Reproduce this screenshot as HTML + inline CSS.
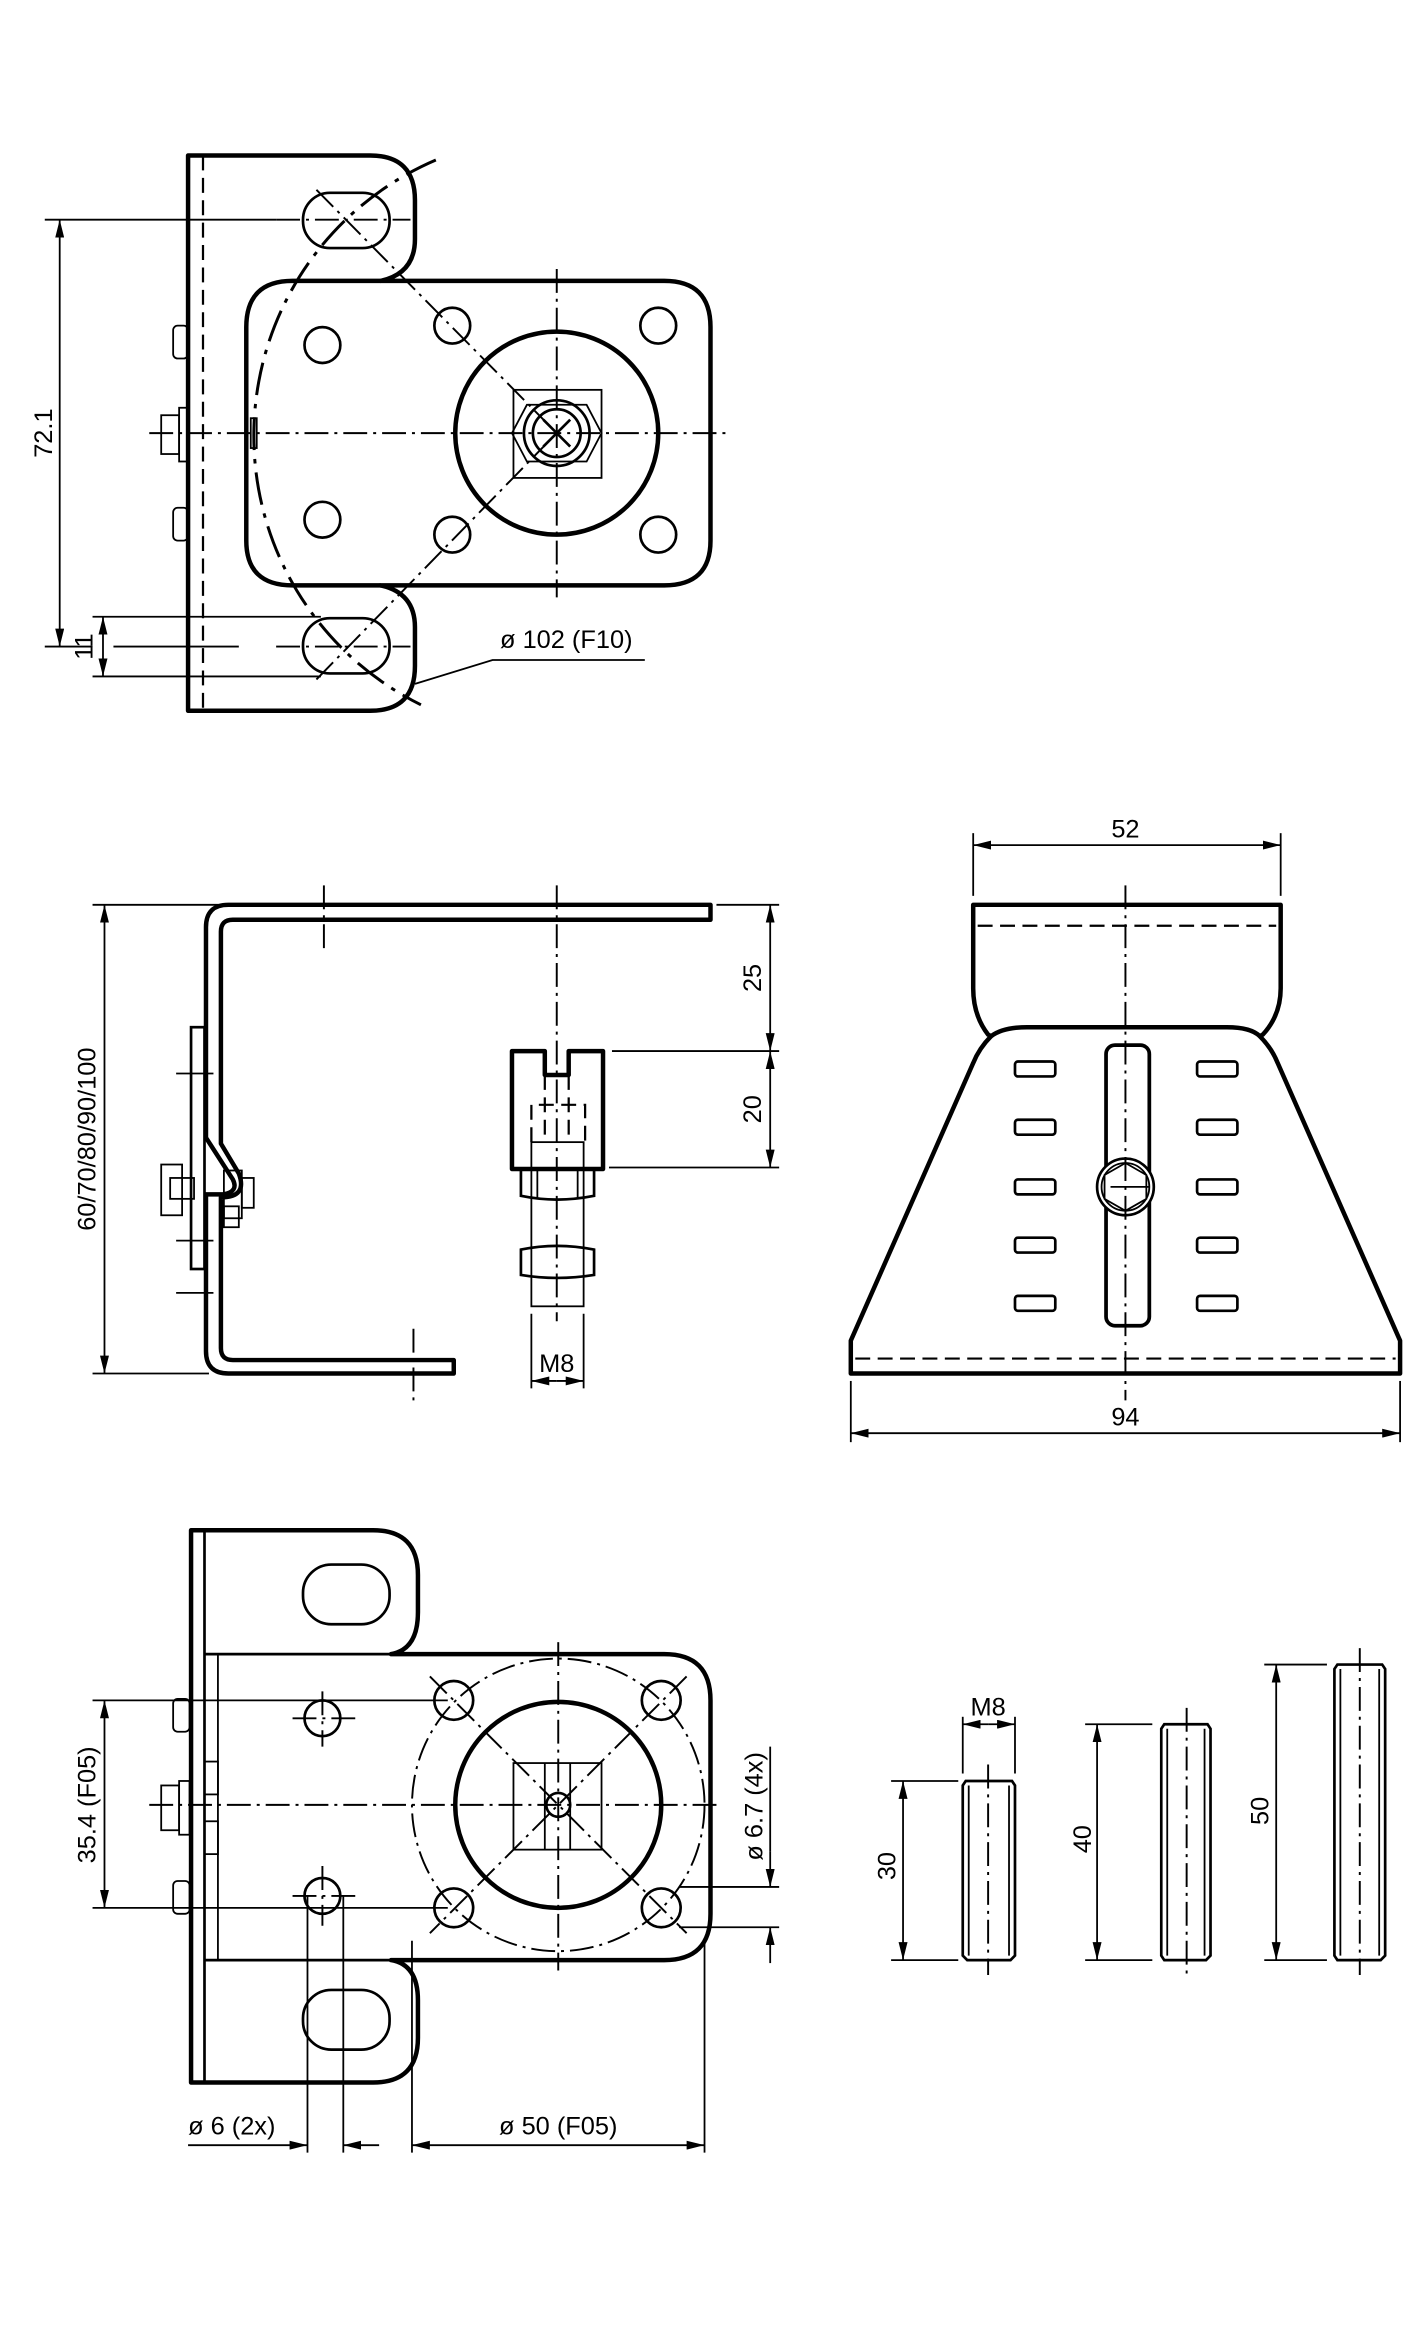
<!DOCTYPE html>
<html><head><meta charset="utf-8"><style>
html,body{margin:0;padding:0;background:#fff;}
svg{display:block;}
text{font-family:"Liberation Sans",sans-serif;font-size:17px;fill:#000;}
.t{fill:none;stroke:#000;stroke-width:3;stroke-linejoin:round;}
.m{fill:none;stroke:#000;stroke-width:1.8;}
.n{fill:none;stroke:#000;stroke-width:1.2;}
.c{fill:none;stroke:#000;stroke-width:1.3;stroke-dasharray:16 4 2 4;}
.d{fill:none;stroke:#000;stroke-width:1.5;stroke-dasharray:10 5;}
.ca{fill:none;stroke:#000;stroke-width:2;stroke-dasharray:22 6 3 6;}
</style></head><body>
<svg width="1418" height="2338" viewBox="0 0 950 1566" xmlns="http://www.w3.org/2000/svg">
<defs>
<marker id="a" viewBox="0 0 12 6" refX="12" refY="3" markerWidth="12" markerHeight="6" orient="auto-start-reverse" markerUnits="userSpaceOnUse"><path d="M0,0 L12,3 L0,6 Z" fill="#000"/></marker>
</defs>

<!-- ============ VIEW 1 (top) ============ -->
<path class="t" d="M126,104 H248 Q278,104 278,134 V160 Q278,183 255,188 H445 Q476,188 476,219 V362 Q476,392 445,392 H255 Q278,397 278,420 V446 Q278,476 248,476 H126 Z"/>
<path class="t" d="M255,188 H196 Q165,188 165,219 V362 Q165,392 196,392 H255"/>
<line class="d" x1="136" y1="104" x2="136" y2="476"/>
<!-- slots -->
<rect class="m" x="203" y="129" width="58" height="37" rx="18"/>
<rect class="m" x="203" y="414" width="58" height="37" rx="18"/>
<!-- holes -->
<circle class="m" cx="216" cy="231" r="12"/><circle class="m" cx="216" cy="348" r="12"/>
<circle class="m" cx="303" cy="218" r="12"/><circle class="m" cx="303" cy="358" r="12"/>
<circle class="m" cx="441" cy="218" r="12"/><circle class="m" cx="441" cy="358" r="12"/>
<circle class="t" cx="373" cy="290" r="68"/>
<rect class="n" x="344" y="261" width="59" height="59"/>
<polygon class="n" points="353,271 393,271 403,290 393,309 353,309 343,290"/>
<circle class="m" cx="373" cy="290" r="22"/><circle class="m" cx="373" cy="290" r="16"/>
<line class="m" x1="364" y1="281" x2="382" y2="299"/><line class="m" x1="364" y1="299" x2="382" y2="281"/>
<line class="c" x1="100" y1="290" x2="490" y2="290"/>
<line class="c" x1="373" y1="180" x2="373" y2="400"/>
<line class="c" x1="212" y1="127" x2="373" y2="290"/>
<line class="c" x1="212" y1="455" x2="373" y2="290"/>
<line class="c" x1="185" y1="147" x2="275" y2="147"/>
<line class="c" x1="185" y1="433" x2="275" y2="433"/>
<!-- ø102 arc -->
<path class="ca" d="M292,107 A201,201 0 0 0 282,472"/>
<!-- left parts -->
<rect class="n" x="116" y="218" width="10" height="22" rx="3"/>
<rect class="n" x="116" y="340" width="10" height="22" rx="3"/>
<rect class="n" x="108" y="278" width="12" height="26"/><rect class="n" x="120" y="273" width="6" height="36"/>
<rect class="n" x="168" y="280" width="4" height="20"/>
<!-- 72.1 dims -->
<line class="n" x1="30" y1="147" x2="185" y2="147"/>
<line class="n" x1="30" y1="433" x2="62" y2="433"/>
<line class="n" x1="40" y1="147" x2="40" y2="433" marker-start="url(#a)" marker-end="url(#a)"/>
<text transform="translate(35,290) rotate(-90)" text-anchor="middle">72.1</text>
<line class="n" x1="62" y1="413" x2="215" y2="413"/>
<line class="n" x1="62" y1="453" x2="215" y2="453"/>
<line class="n" x1="76" y1="433" x2="160" y2="433"/>
<line class="n" x1="69" y1="413" x2="69" y2="453" marker-start="url(#a)" marker-end="url(#a)"/>
<text transform="translate(62,433) rotate(-90)" text-anchor="middle">11</text>
<polyline class="n" points="278,458 330,442 432,442"/>
<text x="335" y="434">ø 102 (F10)</text>

<!-- ============ VIEW 2 (side) ============ -->
<path class="t" d="M476,606 H153 Q138,606 138,621 V762 L156,790 Q160,798 150,800 L138,800 V905 Q138,920 153,920 H304 V911 H156 Q148,911 148,903 V802 Q166,802 160,786 L148,766 V624 Q148,616 156,616 H476 Z"/>
<rect class="m" x="128" y="688" width="9" height="162"/>
<rect class="n" x="108" y="780" width="14" height="34"/><rect class="n" x="114" y="789" width="16" height="14"/>
<rect class="n" x="150" y="784" width="12" height="32"/><rect class="n" x="162" y="789" width="8" height="20"/>
<rect class="n" x="150" y="808" width="10" height="14"/>
<line class="n" x1="118" y1="719" x2="143" y2="719"/>
<line class="n" x1="118" y1="831" x2="143" y2="831"/>
<line class="n" x1="118" y1="866" x2="143" y2="866"/>
<line class="c" x1="217" y1="593" x2="217" y2="638"/>
<line class="c" x1="277" y1="890" x2="277" y2="940"/>
<!-- adapter -->
<path class="t" d="M343,704 H365 V720 H381 V704 H404 V783 H343 Z"/>
<line class="d" x1="365" y1="720" x2="365" y2="760"/><line class="d" x1="381" y1="720" x2="381" y2="760"/>
<polyline class="d" points="356,765 356,740 392,740 392,765"/>
<rect class="n" x="356" y="765" width="35" height="110"/>
<path class="m" d="M349,783 H398 V801 Q373,806 349,801 Z"/>
<path class="m" d="M349,837 Q373,832 398,837 V854 Q373,858 349,854 Z"/>
<line class="n" x1="360" y1="783" x2="360" y2="802"/><line class="n" x1="387" y1="783" x2="387" y2="802"/>
<line class="c" x1="373" y1="593" x2="373" y2="885"/>
<!-- dims -->
<line class="n" x1="62" y1="606" x2="150" y2="606"/>
<line class="n" x1="62" y1="920" x2="140" y2="920"/>
<line class="n" x1="70" y1="606" x2="70" y2="920" marker-start="url(#a)" marker-end="url(#a)"/>
<text transform="translate(64,763) rotate(-90)" text-anchor="middle">60/70/80/90/100</text>
<line class="n" x1="480" y1="606" x2="522" y2="606"/>
<line class="n" x1="410" y1="704" x2="522" y2="704"/>
<line class="n" x1="408" y1="782" x2="522" y2="782"/>
<line class="n" x1="516" y1="606" x2="516" y2="704" marker-start="url(#a)" marker-end="url(#a)"/>
<line class="n" x1="516" y1="704" x2="516" y2="782" marker-start="url(#a)" marker-end="url(#a)"/>
<text transform="translate(510,655) rotate(-90)" text-anchor="middle">25</text>
<text transform="translate(510,743) rotate(-90)" text-anchor="middle">20</text>
<line class="n" x1="356" y1="880" x2="356" y2="930"/><line class="n" x1="391" y1="880" x2="391" y2="930"/>
<line class="n" x1="356" y1="925" x2="373" y2="925" marker-start="url(#a)"/>
<line class="n" x1="373" y1="925" x2="391" y2="925" marker-end="url(#a)"/>
<text x="373" y="919" text-anchor="middle">M8</text>

<!-- ============ VIEW 3 (front) ============ -->
<path class="t" d="M652,606 H858 V662 Q858,680 846,693 L844,694 Q838,688 822,688 H688 Q672,688 664,694 L662,693 Q652,680 652,662 Z"/>
<path class="t" d="M664,694 Q656,702 652,712 L570,898 V920 H938 V898 L856,712 Q852,702 844,694"/>
<line class="d" x1="655" y1="620" x2="855" y2="620"/>
<line class="d" x1="573" y1="910" x2="935" y2="910"/>
<rect class="t" x="741" y="700" width="29" height="188" rx="6" style="stroke-width:2.5"/>
<g class="m">
<rect x="680" y="711" width="27" height="10" rx="2"/><rect x="680" y="750" width="27" height="10" rx="2"/>
<rect x="680" y="790" width="27" height="10" rx="2"/><rect x="680" y="829" width="27" height="10" rx="2"/>
<rect x="680" y="868" width="27" height="10" rx="2"/>
<rect x="802" y="711" width="27" height="10" rx="2"/><rect x="802" y="750" width="27" height="10" rx="2"/>
<rect x="802" y="790" width="27" height="10" rx="2"/><rect x="802" y="829" width="27" height="10" rx="2"/>
<rect x="802" y="868" width="27" height="10" rx="2"/>
</g>
<circle cx="754" cy="795" r="19" fill="#fff" stroke="#000" stroke-width="1.8"/>
<circle class="n" cx="754" cy="795" r="16"/>
<polygon class="n" points="754,779 768,787 768,803 754,811 740,803 740,787"/>
<line class="n" x1="744" y1="795" x2="770" y2="795"/>
<line class="c" x1="754" y1="593" x2="754" y2="938"/>
<line class="n" x1="652" y1="558" x2="652" y2="600"/><line class="n" x1="858" y1="558" x2="858" y2="600"/>
<line class="n" x1="652" y1="566" x2="858" y2="566" marker-start="url(#a)" marker-end="url(#a)"/>
<text x="754" y="561" text-anchor="middle">52</text>
<line class="n" x1="570" y1="925" x2="570" y2="966"/><line class="n" x1="938" y1="925" x2="938" y2="966"/>
<line class="n" x1="570" y1="960" x2="938" y2="960" marker-start="url(#a)" marker-end="url(#a)"/>
<text x="754" y="955" text-anchor="middle">94</text>

<!-- ============ VIEW 4 (bottom left) ============ -->
<path class="t" d="M128,1025 H250 Q280,1025 280,1055 V1080 Q280,1105 262,1108 H445 Q476,1108 476,1139 V1282 Q476,1313 445,1313 H262 Q280,1316 280,1340 V1365 Q280,1395 250,1395 H128 Z"/>
<line class="m" x1="137" y1="1025" x2="137" y2="1395"/>
<line class="m" x1="137" y1="1108" x2="262" y2="1108"/>
<line class="m" x1="137" y1="1313" x2="262" y2="1313"/>
<line class="n" x1="146" y1="1108" x2="146" y2="1313"/>
<rect class="m" x="203" y="1048" width="58" height="40" rx="19"/>
<rect class="m" x="203" y="1333" width="58" height="40" rx="19"/>
<rect class="n" x="116" y="1138" width="11" height="22" rx="3"/>
<rect class="n" x="116" y="1260" width="11" height="22" rx="3"/>
<rect class="n" x="108" y="1196" width="12" height="30"/><rect class="n" x="120" y="1193" width="7" height="36"/>
<rect class="n" x="137" y="1180" width="9" height="22"/><rect class="n" x="137" y="1220" width="9" height="22"/>
<circle class="m" cx="216" cy="1151" r="12"/><circle class="m" cx="216" cy="1270" r="12"/>
<line class="c" x1="196" y1="1151" x2="240" y2="1151"/><line class="c" x1="216" y1="1133" x2="216" y2="1170"/>
<line class="c" x1="196" y1="1270" x2="240" y2="1270"/><line class="c" x1="216" y1="1250" x2="216" y2="1290"/>
<circle class="c" cx="374" cy="1209" r="98"/>
<circle class="m" cx="304" cy="1139" r="13"/><circle class="m" cx="443" cy="1139" r="13"/>
<circle class="m" cx="304" cy="1278" r="13"/><circle class="m" cx="443" cy="1278" r="13"/>
<line class="c" x1="288" y1="1123" x2="460" y2="1295"/>
<line class="c" x1="460" y1="1123" x2="288" y2="1295"/>
<circle class="t" cx="374" cy="1209" r="69"/>
<rect class="n" x="344" y="1181" width="59" height="58"/>
<line class="n" x1="365" y1="1181" x2="365" y2="1239"/><line class="n" x1="382" y1="1181" x2="382" y2="1239"/>
<circle class="m" cx="374" cy="1209" r="8"/>
<line class="c" x1="100" y1="1209" x2="480" y2="1209"/>
<line class="c" x1="374" y1="1100" x2="374" y2="1320"/>
<!-- dims -->
<line class="n" x1="62" y1="1139" x2="300" y2="1139"/>
<line class="n" x1="62" y1="1278" x2="300" y2="1278"/>
<line class="n" x1="70" y1="1139" x2="70" y2="1278" marker-start="url(#a)" marker-end="url(#a)"/>
<text transform="translate(64,1209) rotate(-90)" text-anchor="middle">35.4 (F05)</text>
<line class="n" x1="455" y1="1264" x2="522" y2="1264"/>
<line class="n" x1="455" y1="1291" x2="522" y2="1291"/>
<line class="n" x1="516" y1="1240" x2="516" y2="1264" marker-end="url(#a)"/>
<line class="n" x1="516" y1="1315" x2="516" y2="1291" marker-end="url(#a)"/>
<line class="n" x1="516" y1="1170" x2="516" y2="1240"/>
<text transform="translate(511,1210) rotate(-90)" text-anchor="middle">ø 6.7 (4x)</text>
<line class="n" x1="206" y1="1270" x2="206" y2="1442"/><line class="n" x1="230" y1="1270" x2="230" y2="1442"/>
<line class="n" x1="276" y1="1300" x2="276" y2="1442"/><line class="n" x1="472" y1="1300" x2="472" y2="1442"/>
<line class="n" x1="126" y1="1437" x2="206" y2="1437" marker-end="url(#a)"/>
<line class="n" x1="254" y1="1437" x2="230" y2="1437" marker-end="url(#a)"/>
<text x="126" y="1430">ø 6 (2x)</text>
<line class="n" x1="276" y1="1437" x2="472" y2="1437" marker-start="url(#a)" marker-end="url(#a)"/>
<text x="374" y="1430" text-anchor="middle">ø 50 (F05)</text>

<!-- ============ STUDS ============ -->
<g>
<path class="m" d="M647,1193 H678 L680,1196 V1310 L677,1313 H648 L645,1310 V1196 Z"/>
<line class="n" x1="649" y1="1196" x2="649" y2="1310"/><line class="n" x1="676" y1="1196" x2="676" y2="1310"/>
<line class="c" x1="662" y1="1182" x2="662" y2="1323"/>
<line class="n" x1="645" y1="1150" x2="645" y2="1188"/><line class="n" x1="680" y1="1150" x2="680" y2="1188"/>
<line class="n" x1="645" y1="1155" x2="662" y2="1155" marker-start="url(#a)"/>
<line class="n" x1="662" y1="1155" x2="680" y2="1155" marker-end="url(#a)"/>
<text x="662" y="1149" text-anchor="middle">M8</text>
<line class="n" x1="597" y1="1193" x2="642" y2="1193"/><line class="n" x1="597" y1="1313" x2="642" y2="1313"/>
<line class="n" x1="605" y1="1193" x2="605" y2="1313" marker-start="url(#a)" marker-end="url(#a)"/>
<text transform="translate(600,1250) rotate(-90)" text-anchor="middle">30</text>

<path class="m" d="M780,1155 H809 L811,1158 V1310 L808,1313 H780 L778,1310 V1158 Z"/>
<line class="n" x1="782" y1="1158" x2="782" y2="1310"/><line class="n" x1="807" y1="1158" x2="807" y2="1310"/>
<line class="c" x1="795" y1="1144" x2="795" y2="1323"/>
<line class="n" x1="727" y1="1155" x2="772" y2="1155"/><line class="n" x1="727" y1="1313" x2="772" y2="1313"/>
<line class="n" x1="735" y1="1155" x2="735" y2="1313" marker-start="url(#a)" marker-end="url(#a)"/>
<text transform="translate(731,1232) rotate(-90)" text-anchor="middle">40</text>

<path class="m" d="M896,1115 H926 L928,1118 V1310 L925,1313 H896 L894,1310 V1118 Z"/>
<line class="n" x1="898" y1="1118" x2="898" y2="1310"/><line class="n" x1="924" y1="1118" x2="924" y2="1310"/>
<line class="c" x1="911" y1="1104" x2="911" y2="1323"/>
<line class="n" x1="847" y1="1115" x2="889" y2="1115"/><line class="n" x1="847" y1="1313" x2="889" y2="1313"/>
<line class="n" x1="855" y1="1115" x2="855" y2="1313" marker-start="url(#a)" marker-end="url(#a)"/>
<text transform="translate(850,1213) rotate(-90)" text-anchor="middle">50</text>
</g>
</svg>
</body></html>
